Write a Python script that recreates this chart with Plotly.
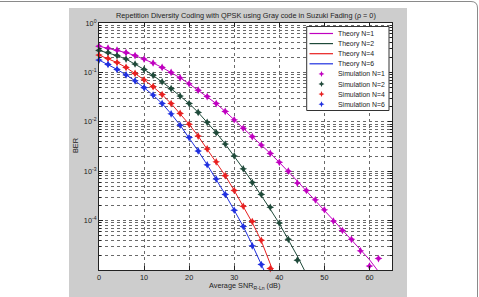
import plotly.graph_objects as go

# ---------------- data ----------------
snr_n1 = list(range(0, 64, 2))
ber_theory_n1 = [0.339, 0.309, 0.282, 0.251, 0.219, 0.186, 0.155, 0.126, 0.100, 0.0776,
                 0.0589, 0.0437, 0.0324, 0.0234, 0.0162, 0.0110, 0.00741, 0.00501, 0.00339, 0.00229,
                 0.00151, 1.00e-3, 6.31e-4, 3.98e-4, 2.57e-4, 1.62e-4, 1.02e-4, 6.46e-5, 4.07e-5, 2.57e-5,
                 1.62e-5, 9.3e-6]
ber_sim_n1 = [0.339, 0.309, 0.282, 0.251, 0.219, 0.186, 0.155, 0.126, 0.100, 0.0776,
              0.0589, 0.0437, 0.0324, 0.0234, 0.0162, 0.0110, 0.00741, 0.00501, 0.00339, 0.00229,
              0.00151, 1.00e-3, 5.75e-4, 4.07e-4, 2.63e-4, 1.66e-4, 9.8e-5, 6.3e-5, 4.17e-5, 2.45e-5,
              1.2e-5, 1.7e-5]

snr_n2 = list(range(0, 48, 2))
ber_theory_n2 = [0.279, 0.251, 0.219, 0.186, 0.148, 0.115, 0.0871, 0.0646, 0.0468, 0.0331,
                 0.0234, 0.0155, 0.00977, 0.00603, 0.00355, 0.00204, 0.00112, 6.03e-4, 3.24e-4, 1.70e-4,
                 8.71e-5, 4.17e-5, 1.91e-5, 8.3e-6]
snr_sim_n2 = list(range(0, 46, 2))
ber_sim_n2 = [0.279, 0.251, 0.219, 0.186, 0.148, 0.115, 0.0871, 0.0646, 0.0468, 0.0331,
              0.0234, 0.0155, 0.00977, 0.00603, 0.00355, 0.00204, 0.00112, 5.89e-4, 3.39e-4, 1.86e-4,
              8.9e-5, 4.17e-5, 1.58e-5]

snr_n4 = list(range(0, 42, 2))
ber_theory_n4 = [0.224, 0.191, 0.158, 0.126, 0.0955, 0.0708, 0.0513, 0.0355, 0.0234, 0.0148,
                 0.00891, 0.00513, 0.00282, 0.00155, 8.13e-4, 4.07e-4, 1.95e-4, 9.12e-5, 3.89e-5, 1.32e-5,
                 4.5e-6]
snr_sim_n4 = list(range(0, 40, 2))
ber_sim_n4 = [0.224, 0.191, 0.158, 0.126, 0.0955, 0.0708, 0.0513, 0.0355, 0.0234, 0.0148,
              0.00891, 0.00513, 0.00282, 0.00155, 8.13e-4, 4.07e-4, 1.95e-4, 9.55e-5, 3.98e-5, 1.07e-5]

snr_n6 = list(range(0, 40, 2))
ber_theory_n6 = [0.178, 0.145, 0.115, 0.0891, 0.0676, 0.0490, 0.0347, 0.0234, 0.0145, 0.00851,
                 0.00479, 0.00257, 0.00135, 6.92e-4, 3.39e-4, 1.62e-4, 7.59e-5, 3.24e-5, 1.32e-5, 5.2e-6]
snr_sim_n6 = list(range(0, 38, 2))
ber_sim_n6 = [0.178, 0.145, 0.115, 0.0891, 0.0676, 0.0490, 0.0347, 0.0234, 0.0145, 0.00851,
              0.00479, 0.00257, 0.00135, 6.92e-4, 3.39e-4, 1.62e-4, 7.59e-5, 3.09e-5, 1.29e-5]

y_tick_vals = [1e0, 1e-1, 1e-2, 1e-3, 1e-4, 1e-5]
y_tick_text = ["10<sup>0</sup>", "10<sup>-1</sup>", "10<sup>-2</sup>", "10<sup>-3</sup>", "10<sup>-4</sup>", ""]
x_tick_vals = [0, 10, 20, 30, 40, 50, 60]

theory_names = ["Theory N=1", "Theory N=2", "Theory N=4", "Theory N=6"]
sim_names = ["Simulation N=1", "Simulation N=2", "Simulation N=4", "Simulation N=6"]

# ---------------- style ----------------
colors = ["#c000c0", "#1f4a3a", "#e82020", "#2030e0"]
FONT = "Liberation Sans, Arial, sans-serif"
MSYM, MSIZE = "star-diamond", 5.5
W, H = 479, 297
ML, MR, MT, MB = 99, 87, 23, 27
PW, PH = W - ML - MR, H - MT - MB


def px(x):
    return (x - ML) / PW


def py(y):
    return (H - MB - y) / PH


fig = go.Figure()

theory_x = [snr_n1, snr_n2, snr_n4, snr_n6]
theory_y = [ber_theory_n1, ber_theory_n2, ber_theory_n4, ber_theory_n6]
sim_x = [snr_n1, snr_sim_n2, snr_sim_n4, snr_sim_n6]
sim_y = [ber_sim_n1, ber_sim_n2, ber_sim_n4, ber_sim_n6]

for i in range(4):
    fig.add_trace(go.Scatter(x=theory_x[i], y=theory_y[i], mode="lines", name=theory_names[i],
                             line=dict(color=colors[i], width=1), showlegend=False))
for i in range(4):
    fig.add_trace(go.Scatter(x=sim_x[i], y=sim_y[i], mode="markers", name=sim_names[i],
                             marker=dict(color=colors[i], symbol=MSYM, size=MSIZE,
                                         line=dict(width=0)),
                             showlegend=False, cliponaxis=False))

# ----- custom legend (MATLAB style) -----
leg_x0, leg_x1, leg_top, leg_bot = 306.7, 389, 26.5, 110.5
row0, row_step = 33.5, 10.1
shapes = []
annotations = []
shapes.append(dict(type="rect", xref="paper", yref="paper", x0=px(leg_x0), x1=px(leg_x1),
                   y0=py(leg_bot), y1=py(leg_top), fillcolor="white",
                   line=dict(color="#333333", width=1), layer="above"))
labels = theory_names + sim_names
r_out, r_in = 3.0, 0.9
star_pts = [(0, r_out), (r_in, r_in), (r_out, 0), (r_in, -r_in),
            (0, -r_out), (-r_in, -r_in), (-r_out, 0), (-r_in, r_in)]
star_path = "M " + " L ".join(f"{a},{b}" for a, b in star_pts) + " Z"
for k, lab in enumerate(labels):
    ry = row0 + row_step * k
    if k < 4:
        shapes.append(dict(type="line", xref="paper", yref="paper", x0=px(309.5), x1=px(333),
                           y0=py(ry), y1=py(ry), line=dict(color=colors[k], width=1.2),
                           layer="above"))
    else:
        shapes.append(dict(type="path", xref="paper", yref="paper", xsizemode="pixel",
                           ysizemode="pixel", xanchor=px(321.5), yanchor=py(ry), path=star_path,
                           fillcolor=colors[k - 4], line=dict(width=0), layer="above"))
    annotations.append(dict(text=lab, xref="paper", yref="paper", x=px(335.5), y=py(ry),
                            xanchor="left", yanchor="middle", showarrow=False,
                            font=dict(family=FONT, size=6.9, color="#222222")))

# ----- figure frame: gray panel with white surroundings -----
white_rects = [
    (0, 69, 0, 297),
    (407, 479, 0, 297),
    (0, 479, 0, 8),
]
for x0, x1, y0, y1 in white_rects:
    shapes.append(dict(type="rect", xref="paper", yref="paper", x0=px(x0), x1=px(x1),
                       y0=py(y1), y1=py(y0), fillcolor="white", line=dict(width=0), layer="above"))
frame_path = (f"M {px(0)},{py(1.5)} L {px(471)},{py(1.5)} "
              f"Q {px(477.5)},{py(1.5)} {px(477.5)},{py(8)} L {px(477.5)},{py(297)}")
shapes.append(dict(type="path", xref="paper", yref="paper", path=frame_path,
                   line=dict(color="#8a8a8a", width=1), layer="above"))

# ----- titles -----
annotations.append(dict(text="Repetition Diversity Coding with QPSK using Gray code in Suzuki Fading (\u03c1 = 0)",
                        xref="paper", yref="paper", x=px(245.5), y=py(15.5), xanchor="center",
                        yanchor="middle", showarrow=False,
                        font=dict(family=FONT, size=7.3, color="#222222")))
annotations.append(dict(text="Average SNR<sub>R-Ln</sub> (dB)", xref="paper", yref="paper",
                        x=px(244), y=py(285.5), xanchor="center", yanchor="middle", showarrow=False,
                        font=dict(family=FONT, size=7.3, color="#222222")))
annotations.append(dict(text="BER", xref="paper", yref="paper", x=px(75), y=py(146),
                        xanchor="center", yanchor="middle", showarrow=False, textangle=-90,
                        font=dict(family=FONT, size=7.3, color="#222222")))

minor_vals = [m * 10.0 ** e for e in range(-5, 0) for m in range(2, 10)]

grid_color = "#6a6a6a"
fig.update_layout(
    width=W, height=H,
    margin=dict(l=ML, r=MR, t=MT, b=MB, pad=0),
    paper_bgcolor="#cdcdcd",
    plot_bgcolor="white",
    font=dict(family=FONT, size=7, color="#222222"),
    shapes=shapes,
    annotations=annotations,
    xaxis=dict(range=[0, 65], tickmode="array", tickvals=x_tick_vals,
               ticks="inside", ticklen=4, tickcolor="#222222",
               showline=True, linecolor="#222222", linewidth=1, mirror="ticks",
               showgrid=True, gridcolor=grid_color, gridwidth=1, griddash="dot",
               zeroline=False, tickfont=dict(size=7.3, family=FONT, color="#222222")),
    yaxis=dict(type="log", range=[-5, 0], tickmode="array", tickvals=y_tick_vals, ticktext=y_tick_text,
               ticks="inside", ticklen=4, tickcolor="#222222",
               showline=True, linecolor="#222222", linewidth=1, mirror="ticks",
               showgrid=True, gridcolor=grid_color, gridwidth=1, griddash="dot",
               zeroline=False, tickfont=dict(size=7.3, family=FONT, color="#222222"),
               minor=dict(tickmode="array", tickvals=minor_vals, ticks="inside", ticklen=2,
                          tickcolor="#222222", showgrid=True, gridcolor=grid_color,
                          gridwidth=1, griddash="dot")),
    showlegend=False,
)

fig.write_html("out.html")
